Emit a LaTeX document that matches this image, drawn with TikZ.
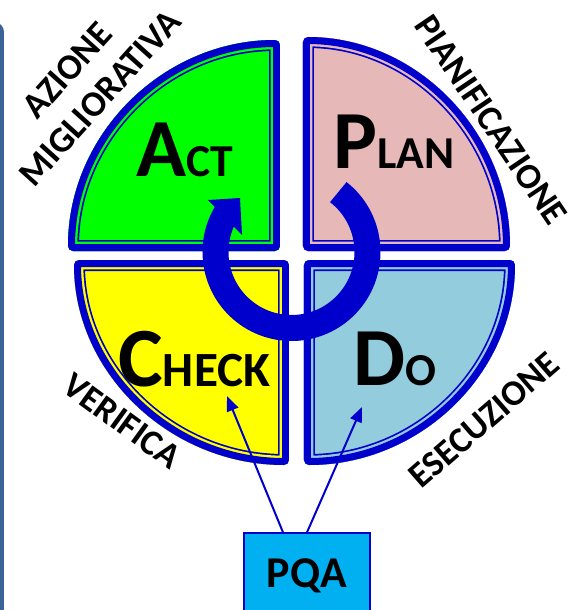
\documentclass[tikz,border=0pt]{standalone}
\usepackage{fontspec}
\setmainfont{Carlito}
\usetikzlibrary{arrows.meta}

\definecolor{qblue}{HTML}{0000CC}
\definecolor{actgreen}{HTML}{00FF00}
\definecolor{planpink}{HTML}{E6B9B8}
\definecolor{checkyellow}{HTML}{FFFF00}
\definecolor{dosky}{HTML}{93CDDD}
\definecolor{pqacyan}{HTML}{00B0F0}
\definecolor{barblue}{HTML}{3B6395}

\tikzset{
  bigword/.style={font=\bfseries\fontsize{26}{26}\selectfont, inner sep=0pt, anchor=base west},
  sideword/.style={font=\bfseries\fontsize{20.5}{20.5}\selectfont, inner sep=0pt},
  pqabox/.style={draw=qblue, line width=0.026cm, fill=pqacyan, minimum width=2.52cm, minimum height=1.6cm, text depth=0pt, font=\bfseries\fontsize{25}{25}\selectfont},
  pqaarrow/.style={draw=qblue, line width=0.04cm, -{Triangle[length=0.3cm, width=0.24cm]}},
}

\begin{document}
\begin{tikzpicture}[x=0.02cm, y=-0.02cm]
\useasboundingbox (0,0) rectangle (572,610);

% left border bar
\fill[barblue, rounded corners=0.2cm] (-20,22) rectangle (4,650);

% quadrants
\foreach \cx/\cy/\rx/\ry/\sa/\col in {280/251/212/211/180/actgreen, 303/251/207/214/270/planpink, 289/260/215/205/90/checkyellow, 304/260/211/205/0/dosky}{
  \def\qpath{(\cx,\cy) -- ++({\rx*cos(\sa)},{\ry*sin(\sa)}) arc[start angle=\sa, delta angle=90, x radius=\rx, y radius=\ry] -- cycle}
  \begin{scope}[rounded corners=0.1cm]
    \clip \qpath;
    \fill[\col] \qpath;
    \draw[qblue, line width=0.44cm] \qpath;
    \draw[\col, line width=0.372cm] \qpath;
    \draw[qblue, line width=0.28cm] \qpath;
  \end{scope}
}

% cycle arrow
\draw[qblue, line width=0.52cm] (291.5,252) ++(-52:76) arc[start angle=-52, end angle=212, radius=76];
\fill[qblue] (208,200) -- (242,235) -- (240,198) -- cycle;

% big words
\node[bigword] (act) at (136,176) {{\fontsize{47}{47}\selectfont A}CT};
\node[bigword] (plan) at (333,168) {{\fontsize{47}{47}\selectfont P}LAN};
\node[bigword, font=\bfseries\fontsize{28}{28}\selectfont] (check) at (118,386) {{\fontsize{48}{48}\selectfont C}HECK};
\node[bigword] (do) at (353,385) {{\fontsize{47}{47}\selectfont D}O};

% side words
\node[sideword, rotate=48] (azione) at (67,70) {AZIONE};
\node[sideword, rotate=48] (migliorativa) at (100,98) {MIGLIORATIVA};
\node[sideword, rotate=-56] (pianificazione) at (491,120) {PIANIFICAZIONE};
\node[sideword, rotate=-36] (verifica) at (122,421) {VERIFICA};
\node[sideword, rotate=41] (esecuzione) at (484,420) {ESECUZIONE};

% pqa box and arrows
\node[pqabox] (pqa) at (307,573) {PQA};
\coordinate (checktip) at (227,396);
\coordinate (dotip) at (362,407);
\draw[pqaarrow] ([xshift=-0.48cm]pqa.north) -- (checktip);
\draw[pqaarrow] (pqa.north) -- (dotip);

\end{tikzpicture}
\end{document}
